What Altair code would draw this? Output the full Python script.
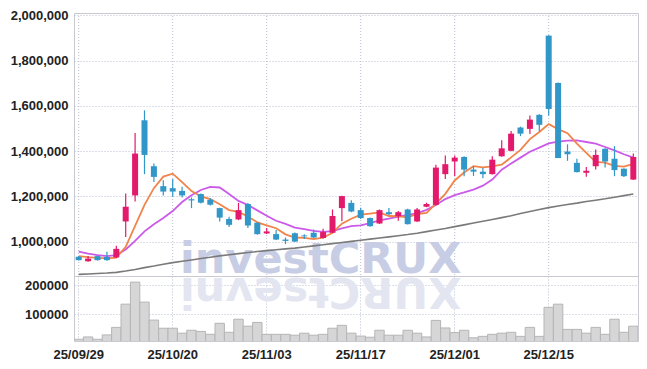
import altair as alt
import pandas as pd

dates = ["25/09/29","25/09/30","25/10/01","25/10/02","25/10/10","25/10/13","25/10/14","25/10/15","25/10/16","25/10/17",
         "25/10/20","25/10/21","25/10/22","25/10/23","25/10/24","25/10/27","25/10/28","25/10/29","25/10/30","25/10/31",
         "25/11/03","25/11/04","25/11/05","25/11/06","25/11/07","25/11/10","25/11/11","25/11/12","25/11/13","25/11/14",
         "25/11/17","25/11/18","25/11/19","25/11/20","25/11/21","25/11/24","25/11/25","25/11/26","25/11/27","25/11/28",
         "25/12/01","25/12/02","25/12/03","25/12/04","25/12/05","25/12/08","25/12/09","25/12/10","25/12/11","25/12/12",
         "25/12/15","25/12/16","25/12/17","25/12/18","25/12/19","25/12/22","25/12/23","25/12/24","25/12/26","25/12/29"]
label_dates = ["25/09/29", "25/10/20", "25/11/03", "25/11/17", "25/12/01", "25/12/15"]

# prices in thousands (KRW)
open_k = [933,913,936,932,930,1089,1204,1536,1333,1245,1236,1224,1187,1210,1185,1148,1100,1098,1166,1083,
          1036,1033,1009,1037,1027,1039,1016,1039,1148,1171,1139,1104,1080,1130,1112,1142,1089,1154,1162,1298,
          1354,1374,1318,1309,1298,1377,1401,1504,1498,1560,1910,1701,1398,1348,1304,1333,1410,1366,1322,1274]
high_k = [936,936,938,955,982,1212,1480,1580,1345,1271,1277,1242,1195,1213,1192,1150,1110,1171,1170,1086,
          1060,1051,1018,1040,1033,1054,1057,1142,1203,1183,1150,1107,1142,1148,1135,1145,1148,1172,1339,1380,
          1380,1377,1333,1325,1377,1448,1489,1508,1557,1563,1912,1703,1430,1366,1330,1407,1412,1422,1324,1389]
low_k = [916,911,916,915,928,1020,1177,1298,1263,1204,1198,1195,1148,1168,1160,1089,1065,1095,1060,1030,
         1034,1007,989,998,1012,1015,1014,1037,1090,1130,1100,1066,1078,1118,1092,1075,1087,1152,1160,1277,
         1289,1289,1290,1280,1296,1375,1399,1466,1475,1489,1557,1369,1357,1305,1286,1318,1327,1289,1285,1272]
close_k = [918,925,918,918,968,1154,1389,1383,1286,1221,1221,1204,1182,1172,1163,1106,1074,1139,1071,1033,
           1045,1009,1003,1000,1023,1018,1042,1113,1201,1133,1104,1068,1139,1121,1130,1077,1142,1166,1327,1342,
           1371,1318,1309,1298,1362,1412,1477,1477,1539,1516,1586,1369,1386,1307,1313,1383,1354,1316,1289,1374]
ma5_k = [936,931,928,926,929,977,1069,1162,1236,1287,1300,1263,1223,1200,1188,1165,1139,1131,1111,1085,
         1072,1059,1032,1018,1016,1011,1017,1039,1079,1101,1119,1124,1129,1113,1112,1107,1122,1127,1168,1211,
         1270,1305,1333,1328,1332,1340,1372,1405,1453,1484,1519,1497,1479,1433,1392,1352,1349,1335,1331,1343]
ma20_k = [956,947,940,936,940,965,1003,1045,1077,1104,1135,1175,1205,1228,1242,1239,1210,1180,1162,1138,
          1114,1092,1078,1062,1055,1047,1043,1046,1058,1068,1072,1082,1094,1102,1110,1118,1125,1140,1162,1188,
          1205,1217,1230,1247,1274,1318,1345,1371,1397,1415,1434,1442,1446,1447,1440,1433,1418,1403,1386,1371]
ma60_k = [855,857,859,861,864,870,877,885,892,900,907,913,919,925,931,937,942,947,952,956,
          960,964,968,971,976,981,986,991,996,1001,1006,1011,1016,1021,1026,1031,1037,1044,1051,1058,
          1066,1074,1082,1090,1098,1106,1114,1124,1133,1142,1150,1157,1164,1170,1177,1183,1189,1196,1203,1210]
volume_k = [14,22,14,29,55,135,211,142,80,52,52,35,45,41,31,69,38,83,59,72,
            31,31,31,28,35,28,31,52,62,35,25,21,45,28,28,45,35,22,79,53,
            37,45,19,24,31,35,38,24,55,24,124,135,48,48,35,55,31,83,38,59]

price_ticks = [1000000, 1200000, 1400000, 1600000, 1800000, 2000000]
volume_ticks = [100000, 200000]

df = pd.DataFrame({
    "date": dates,
    "open": [v * 1000 for v in open_k],
    "high": [v * 1000 for v in high_k],
    "low": [v * 1000 for v in low_k],
    "close": [v * 1000 for v in close_k],
    "ma5": [v * 1000 for v in ma5_k],
    "ma20": [v * 1000 for v in ma20_k],
    "ma60": [v * 1000 for v in ma60_k],
    "volume": [v * 1000 for v in volume_k],
})
df["dir"] = ["up" if c >= o else "down" for o, c in zip(df["open"], df["close"])]
grid_df = pd.DataFrame({"date": label_dates})

RED = "#e3196b"
BLUE = "#3196c8"
GRID = "#b9bdd0"
FONT = "Liberation Sans"
W = 564
EXT = 64

xscale = alt.Scale(domain=dates, paddingInner=0, paddingOuter=0)
x_price = alt.X("date:O", scale=xscale, axis=None)
pscale = alt.Scale(domain=[848000, 2010000], zero=False, nice=False)
paxis = alt.Axis(values=price_ticks, format=",d", title=None, ticks=False, domain=False,
                 labelPadding=6, minExtent=EXT, maxExtent=EXT, grid=True)

def py(field):
    return alt.Y(f"{field}:Q", scale=pscale, axis=paxis)

color = alt.Color("dir:N", scale=alt.Scale(domain=["up", "down"], range=[RED, BLUE]), legend=None)

base = alt.Chart(df).encode(x=x_price)

vgrid = alt.Chart(grid_df).mark_rule(color=GRID, strokeDash=[1, 2], strokeWidth=1).encode(x=x_price)

wm = alt.Chart(pd.DataFrame({"t": ["investCRUX"]})).mark_text(
    font="DejaVu Sans", fontWeight="bold", fontSize=43, color="#c7cde4", align="left",
    baseline="alphabetic"
).encode(x=alt.value(106), y=alt.value(260), text="t:N")

ma60_line = base.mark_line(color="#7a7a7a", strokeWidth=1.6).encode(y=py("ma60"))
ma20_line = base.mark_line(color="#cc5ae8", strokeWidth=1.8).encode(y=py("ma20"))
ma5_line = base.mark_line(color="#f0844a", strokeWidth=1.8).encode(y=py("ma5"))
wicks = base.mark_rule(strokeWidth=1.2).encode(y=py("low"), y2="high:Q", color=color)
bodies = base.mark_bar(size=6).encode(y=py("open"), y2="close:Q", color=color)

price = alt.layer(vgrid, wm, ma60_line, ma20_line, ma5_line, wicks, bodies).properties(width=W, height=263)

x_vol = alt.X("date:O", scale=xscale,
              axis=alt.Axis(values=label_dates, labelAngle=0, ticks=False, domain=False, title=None,
                            grid=True, bandPosition=0.5, labelPadding=7))
vscale = alt.Scale(domain=[8000, 232000], zero=False, nice=False)
vaxis = alt.Axis(values=volume_ticks, format="d", title=None, ticks=False, domain=False,
                 labelPadding=6, minExtent=EXT, maxExtent=EXT, grid=True)

refl = alt.Chart(pd.DataFrame({"t": ["XURCtsevni"]})).mark_text(
    font="DejaVu Sans", fontWeight="bold", fontSize=43, color="#e3e6f0", align="right",
    baseline="alphabetic", angle=180
).encode(x=alt.value(106), y=alt.value(2), text="t:N")

vbars = alt.Chart(df).mark_bar(color="#d6d6d6", stroke="#b5b5b5", strokeWidth=1, clip=True).encode(
    x=x_vol, y=alt.Y("volume:Q", scale=vscale, axis=vaxis)
)
volume = alt.layer(refl, vbars).properties(width=W, height=65)

chart = alt.vconcat(price, volume, spacing=0, bounds="flush").properties(
    padding={"left": 1, "top": 0, "right": 0, "bottom": 5}
).configure_view(stroke="#c9c9cf", strokeWidth=1).configure_axis(
    labelFont=FONT, labelFontSize=13, labelFontWeight="bold", labelColor="#222222",
    gridColor=GRID, gridDash=[1, 2], gridWidth=1
)

chart.save("out.html", embed_options={"renderer": "svg", "actions": False})
